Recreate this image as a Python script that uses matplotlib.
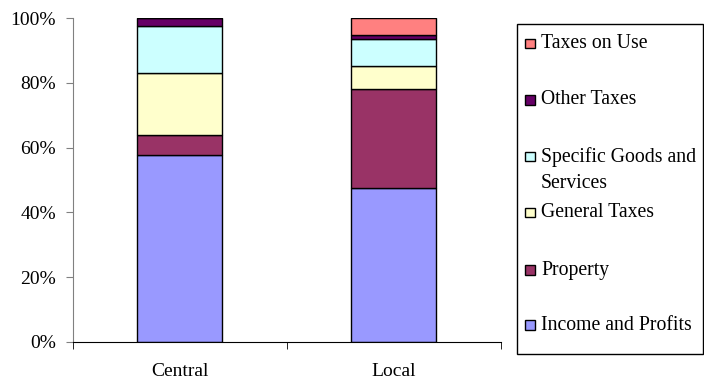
import numpy as np
import matplotlib
matplotlib.use("Agg")
from matplotlib import pyplot as plt
from matplotlib.patches import Rectangle

plt.rcParams["font.family"] = ["Liberation Serif", "DejaVu Serif"]

levels = ["Central", "Local"]
categories = ["Income and Profits", "Property", "General Taxes",
              "Specific Goods and\nServices", "Other Taxes", "Taxes on Use"]
# shares in percent, one list per category (Central, Local)
income = [57.7, 47.4]
property_ = [6.2, 30.7]
general = [19.1, 7.2]
specific = [14.6, 8.4]
other = [2.4, 1.1]
use = [0.0, 5.2]
series = [income, property_, general, specific, other, use]
colors = ["#9999FF", "#993366", "#FFFFCC", "#CCFFFF", "#660066", "#FF8080"]

fig = plt.figure(figsize=(7.04, 3.85), dpi=100)
ax = fig.add_axes([0.1033, 0.1125, 0.6077, 0.84])

x = np.arange(len(levels))
bottom = np.zeros(len(levels))
for vals, col in zip(series, colors):
    ax.bar(x, vals, width=0.4, bottom=bottom, color=col,
           edgecolor="black", linewidth=1.0)
    bottom += np.array(vals)

ax.set_xlim(-0.5, 1.5)
ax.set_ylim(0, 100)
ax.set_yticks([0, 20, 40, 60, 80, 100])
ax.set_yticklabels(["0%", "20%", "40%", "60%", "80%", "100%"])
ax.set_xticks(x)
ax.set_xticklabels(levels)
ax.set_xticks([-0.5, 0.5, 1.5], minor=True)
ax.tick_params(axis="x", which="major", length=0, pad=15, labelsize=14)
ax.tick_params(axis="x", which="minor", length=5, direction="out", color="black")
ax.tick_params(axis="y", length=5, direction="out", color="#808080",
               pad=7, labelsize=14)
for s in ["top", "right"]:
    ax.spines[s].set_visible(False)
ax.spines["left"].set_color("#808080")
ax.spines["bottom"].set_color("black")

# legend box drawn by hand so the wrapped entry keeps its slot
W, H = 704.0, 385.0
fig.patches.append(Rectangle((517.3 / W, 1 - 354 / H), (703 - 517.3) / W, (354 - 24) / H,
                             transform=fig.transFigure, facecolor="white",
                             edgecolor="black", linewidth=1.0))
slots = [325, 270, 212.7, 156.7, 100, 43.3]
for lab, col, yp in zip(categories, colors, slots):
    fig.patches.append(Rectangle((525 / W, 1 - (yp + 4.7) / H), 9.5 / W, 9.5 / H,
                                 transform=fig.transFigure, facecolor=col,
                                 edgecolor="black", linewidth=1.0))
    for i, line in enumerate(lab.split("\n")):
        fig.text(541 / W, 1 - (yp + i * 26.6) / H, line, fontsize=14.2,
                 va="center", ha="left")

fig.savefig("out.png", dpi=100)
